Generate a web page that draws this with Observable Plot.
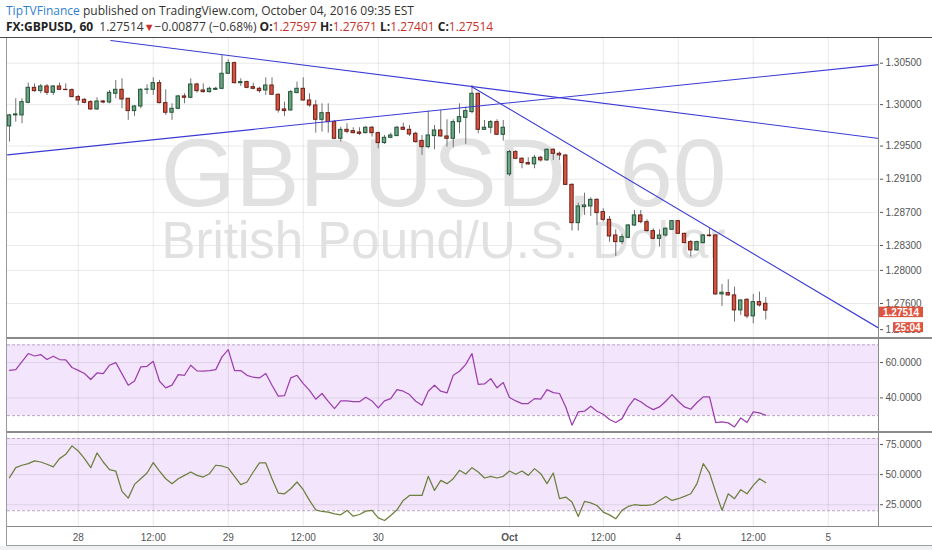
<!DOCTYPE html>
<html><head><meta charset="utf-8">
<script src="https://cdn.jsdelivr.net/npm/d3@7"></script>
<script src="https://cdn.jsdelivr.net/npm/@observablehq/plot@0.6"></script>
<style>
body{margin:0;background:#fff;}
#wrap{position:relative;width:932px;height:550px;overflow:hidden;background:#fff;}
.hdr{position:absolute;left:6px;font-family:"Open Sans",sans-serif;font-size:12px;color:#333;white-space:nowrap;line-height:16px;}
.hdr b{font-weight:700;color:#222;}
.hdr .r{color:#c8302a;}
.panel{position:absolute;left:0;}
.panel svg{display:block;}
.ln{position:absolute;background:#8a8a8a;}
</style></head><body>
<div id="wrap">
 <div class="hdr" style="top:3px"><span style="color:#2f7fd1">TipTVFinance</span> published on TradingView.com, October 04, 2016 09:35 EST</div>
 <div class="hdr" style="top:19px"><b>FX:GBPUSD, 60</b>&nbsp; 1.27514<span style="color:#d0302c;font-size:11px">▼</span>−0.00877 (−0.68%) <b>O:</b><span class="r">1.27597</span> <b>H:</b><span class="r">1.27671</span> <b>L:</b><span class="r">1.27401</span> <b>C:</b><span class="r">1.27514</span></div>
 <div id="p1" class="panel" style="top:38px"></div>
 <div id="p2" class="panel" style="top:338px"></div>
 <div id="p3" class="panel" style="top:432px"></div>
 <div class="ln" style="left:0;top:37px;width:932px;height:1px;background:#4a4a4a"></div>
 <div class="ln" style="left:7px;top:337px;width:925px;height:2px"></div>
 <div class="ln" style="left:7px;top:431px;width:925px;height:2px"></div>
 <div class="ln" style="left:7px;top:526px;width:925px;height:1px"></div>
 <div class="ln" style="left:6px;top:38px;width:1px;height:508px;background:#9a9a9a"></div>
 <div class="ln" style="left:878px;top:38px;width:1px;height:489px"></div>
 <div class="ln" style="left:0;top:546px;width:932px;height:4px;background:#eef0f2"></div>
 <div class="ln" style="left:6px;top:545px;width:926px;height:1px;background:#a0a0a0"></div>
</div>
<script>
// ---- data ----
const opens = [1.29737,1.29870,1.29870,1.30022,1.30203,1.30163,1.30219,1.30143,1.30219,1.30179,
1.30175,1.30091,1.30058,1.30030,1.29942,1.30038,1.30026,1.30131,1.30179,1.30071,
1.29922,1.29978,1.30179,1.30179,1.30259,1.30018,1.29902,1.29950,1.30099,1.30083,
1.30243,1.30171,1.30151,1.30179,1.30191,1.30372,1.30501,1.30259,1.30272,1.30211,
1.30191,1.30171,1.30231,1.30119,1.29942,1.29930,1.30139,1.30191,1.30050,1.29990,
1.29817,1.29897,1.29789,1.29588,1.29696,1.29680,1.29664,1.29656,1.29721,1.29656,
1.29536,1.29600,1.29620,1.29721,1.29696,1.29648,1.29560,1.29487,1.29620,1.29688,
1.29616,1.29588,1.29789,1.29841,1.29910,1.30131,1.29696,1.29721,1.29789,1.29636,
1.29158,1.29427,1.29347,1.29295,1.29279,1.29359,1.29327,1.29455,1.29407,1.29386,
1.29032,1.28570,1.28763,1.28771,1.28851,1.28703,1.28610,1.28421,1.28341,1.28393,
1.28542,1.28663,1.28582,1.28474,1.28381,1.28421,1.28490,1.28594,1.28441,1.28341,
1.28241,1.28329,1.28421,1.28421,1.27710,1.27726,1.27698,1.27517,1.27645,1.27445,
1.27617,1.27597];
const highs = [1.29882,1.30071,1.30071,1.30259,1.30251,1.30243,1.30243,1.30231,1.30259,1.30251,
1.30191,1.30111,1.30071,1.30050,1.30083,1.30050,1.30171,1.30292,1.30312,1.30071,
1.29990,1.30191,1.30239,1.30324,1.30292,1.30179,1.30010,1.30111,1.30131,1.30312,
1.30259,1.30251,1.30211,1.30211,1.30593,1.30541,1.30513,1.30312,1.30284,1.30259,
1.30211,1.30324,1.30324,1.30131,1.30030,1.30171,1.30272,1.30324,1.30131,1.30050,
1.30010,1.30010,1.29809,1.29729,1.29769,1.29721,1.29721,1.29737,1.29737,1.29668,
1.29628,1.29656,1.29737,1.29777,1.29749,1.29668,1.29628,1.29922,1.29749,1.29930,
1.29817,1.29817,1.30010,1.29970,1.30231,1.30139,1.29809,1.29809,1.29817,1.29809,
1.29447,1.29447,1.29359,1.29359,1.29387,1.29375,1.29467,1.29467,1.29427,1.29398,
1.29044,1.28811,1.28932,1.28876,1.28864,1.28743,1.28651,1.28490,1.28433,1.28554,
1.28723,1.28723,1.28610,1.28502,1.28490,1.28514,1.28602,1.28602,1.28449,1.28361,
1.28353,1.28433,1.28502,1.28433,1.27830,1.27887,1.27798,1.27645,1.27658,1.27710,
1.27738,1.27671];
const lows = [1.29548,1.29789,1.29769,1.30010,1.30151,1.30131,1.30111,1.30111,1.30171,1.30171,
1.30083,1.29990,1.30010,1.29930,1.29930,1.30010,1.30010,1.30071,1.29950,1.29810,
1.29858,1.29950,1.30123,1.30111,1.30010,1.29870,1.29810,1.29938,1.30010,1.30071,
1.30139,1.30139,1.30139,1.30171,1.30179,1.30364,1.30251,1.30219,1.30191,1.30179,
1.30139,1.30111,1.30111,1.29898,1.29858,1.29922,1.30131,1.30042,1.29970,1.29656,
1.29668,1.29656,1.29576,1.29548,1.29648,1.29648,1.29628,1.29648,1.29608,1.29467,
1.29520,1.29588,1.29616,1.29688,1.29616,1.29536,1.29387,1.29467,1.29455,1.29608,
1.29487,1.29479,1.29648,1.29520,1.29889,1.29648,1.29688,1.29648,1.29628,1.29560,
1.29134,1.29335,1.29226,1.29266,1.29226,1.29307,1.29319,1.29327,1.29327,1.29024,
1.28474,1.28474,1.28663,1.28651,1.28542,1.28582,1.28341,1.28168,1.28313,1.28381,
1.28530,1.28562,1.28462,1.28369,1.28281,1.28401,1.28482,1.28433,1.28321,1.28160,
1.28232,1.28321,1.28401,1.27698,1.27565,1.27686,1.27376,1.27457,1.27417,1.27356,
1.27557,1.27401];
const closes = [1.29870,1.29882,1.30030,1.30203,1.30163,1.30219,1.30143,1.30219,1.30179,1.30175,
1.30091,1.30050,1.30022,1.29942,1.30038,1.30026,1.30143,1.30179,1.30062,1.29922,
1.29978,1.30179,1.30183,1.30259,1.30018,1.29902,1.29950,1.30099,1.30083,1.30243,
1.30163,1.30151,1.30191,1.30191,1.30372,1.30501,1.30259,1.30272,1.30203,1.30191,
1.30163,1.30231,1.30119,1.29930,1.29922,1.30151,1.30191,1.30050,1.29990,1.29817,
1.29897,1.29789,1.29588,1.29696,1.29672,1.29656,1.29648,1.29721,1.29656,1.29536,
1.29600,1.29628,1.29721,1.29696,1.29640,1.29548,1.29487,1.29628,1.29688,1.29616,
1.29588,1.29789,1.29849,1.29922,1.30131,1.29696,1.29721,1.29789,1.29636,1.29721,
1.29427,1.29347,1.29295,1.29279,1.29359,1.29327,1.29455,1.29407,1.29387,1.29032,
1.28570,1.28771,1.28783,1.28851,1.28691,1.28610,1.28409,1.28341,1.28401,1.28542,
1.28663,1.28582,1.28474,1.28381,1.28421,1.28502,1.28594,1.28441,1.28329,1.28241,
1.28341,1.28421,1.28413,1.27710,1.27730,1.27698,1.27517,1.27637,1.27445,1.27617,
1.27577,1.27514];
const rsi = [55.6,56.0,60.5,65.1,63.7,64.5,61.7,63.6,61.7,61.5,
57.2,55.6,53.8,50.4,54.1,53.8,58.5,60.0,53.6,47.2,
49.6,57.5,57.9,60.7,49.4,45.7,47.2,53.2,52.8,58.5,
55.3,55.1,55.5,56.0,63.2,67.3,55.5,55.5,52.8,51.7,
51.3,53.8,47.2,41.0,41.3,51.3,52.8,48.1,44.3,39.3,
42.5,38.1,34.0,38.3,38.3,37.9,37.9,40.4,38.3,34.4,
38.3,39.6,44.7,43.8,41.9,38.1,35.9,43.8,47.2,43.8,
42.8,52.8,55.1,59.0,65.1,47.6,47.9,50.9,45.7,48.7,
40.2,38.3,36.8,36.8,39.6,39.3,44.7,43.0,42.5,34.9,
24.6,32.1,32.5,35.3,32.5,30.8,27.8,26.1,28.3,34.9,
39.6,37.8,35.3,33.4,34.9,38.1,41.9,38.1,34.9,33.6,
37.4,40.6,40.6,26.1,26.5,25.9,23.6,28.7,26.1,32.1,
31.5,30.2];
const stoch = [47.5,55.8,57.8,59.1,61.4,60.5,58.6,56.4,63.3,66.9,
73.9,69.7,63.3,55.8,68.0,60.5,54.1,53.0,36.1,30.5,
41.9,46.6,51.4,60.0,53.0,46.6,42.5,46.6,49.4,52.2,
49.4,48.0,50.8,57.8,57.2,55.5,48.6,41.7,43.9,52.2,
59.7,59.7,46.6,34.7,34.1,38.3,43.9,37.5,28.6,20.8,
19.4,18.9,17.5,16.6,20.3,15.5,16.9,19.7,20.3,14.1,
11.9,16.1,20.8,28.6,32.7,32.7,32.7,48.6,36.9,45.2,
42.5,46.6,53.6,50.5,55.8,52.2,47.2,48.6,47.2,48.6,
53.0,50.3,53.0,49.4,55.0,50.8,42.5,51.4,30.0,31.4,
27.2,15.3,27.8,26.6,24.4,18.9,16.6,13.3,20.3,23.6,
25.0,24.4,24.4,25.2,28.6,31.9,28.6,30.0,31.9,34.1,
42.5,59.1,51.4,35.5,20.3,34.1,30.0,37.5,34.1,41.1,
46.6,43.3];
// x ticks (bar index) and labels
const xTickIndex = [11,23,35,47,59,80,95,107,119,131];
const xTickLabels = ["28","12:00","29","12:00","30","Oct","12:00","4","12:00","5"];
const priceTicks = [1.276,1.280,1.283,1.287,1.291,1.295,1.300,1.305];
const rsiTicks = [40,60];
const rsiBand = [30,70];
const stochTicks = [25,50,75];
const stochBand = [20,80];
// trend lines: [index1, price1, index2, price2]
const trendLines = [[16.2,1.30774,139.2,1.29591],[-0.32,1.29394,139.2,1.30484],[73.9,1.30219,139.2,1.27298]];
const lastPrice = 1.27514;
const countdown = "25:04";

// ---- layout ----
const W = 932, ML = 7, MR = 53;
const xDomain = [-0.32, 139.2];
const idx = d3.range(opens.length);
const up = idx.filter(i => closes[i] >= opens[i]);
const dn = idx.filter(i => closes[i] < opens[i]);
const style = {fontFamily:"'Liberation Sans', Arial, sans-serif", fontSize:"10px", color:"#555", background:"transparent", overflow:"visible"};
const gridStroke = {stroke:"#000", strokeOpacity:0.085};
const labelMap = new Map(xTickIndex.map((d,i)=>[d, xTickLabels[i]]));

const main = Plot.plot({
  width: W, height: 300, marginLeft: ML, marginRight: MR, marginTop: 0, marginBottom: 0,
  style,
  x: {domain: xDomain, axis: null},
  y: {domain: [1.27178, 1.30798], axis: null},
  marks: [
    Plot.gridY(priceTicks, gridStroke),
    Plot.gridX(xTickIndex, gridStroke),
    Plot.text(["GBPUSD, 60"], {frameAnchor:"top", lineAnchor:"bottom", dy:167, fontSize:96, fill:"#e1e1e1", fontFamily:"'Liberation Sans', Arial, sans-serif"}),
    Plot.text(["British Pound/U.S. Dollar"], {frameAnchor:"top", lineAnchor:"bottom", dy:219, fontSize:51, fill:"#e1e1e1", fontFamily:"'Liberation Sans', Arial, sans-serif"}),
    Plot.ruleX(idx, {x: i => i, y1: i => lows[i], y2: i => highs[i], stroke:"#737375", strokeWidth:1}),
    Plot.rect(up, {x1: i => i - 0.27, x2: i => i + 0.27, y1: i => opens[i], y2: i => closes[i], fill:"#6ba583", stroke:"#225437", strokeWidth:1}),
    Plot.rect(dn, {x1: i => i - 0.27, x2: i => i + 0.27, y1: i => opens[i], y2: i => closes[i], fill:"#d75442", stroke:"#6b1f16", strokeWidth:1}),
    ...trendLines.map(t => Plot.line([[t[0],t[1]],[t[2],t[3]]], {x: d => d[0], y: d => d[1], stroke:"#3a3ad6", strokeWidth:1.1, clip:true})),
    Plot.axisY(priceTicks, {anchor:"right", tickFormat: d3.format(".5f"), tickSize:3, tickPadding:3, fontSize:10}),
    Plot.axisY([1.272], {anchor:"right", tickFormat: d3.format(".5f"), tickSize:3, tickPadding:3, fontSize:10, dy:-7})
  ]
});
document.getElementById("p1").append(main);
{
  const y = main.scale("y").apply(lastPrice);
  const g = d3.select(main).append("g").attr("text-anchor", "start").attr("font-size", 10).attr("font-weight", 600);
  const xr = W - MR;
  g.append("rect").attr("x", xr).attr("y", y - 3.5).attr("width", 44).attr("height", 10.5).attr("fill", "#e0533f");
  g.append("text").attr("x", xr + 4).attr("y", y + 5.5).attr("fill", "#fff").text(d3.format(".5f")(lastPrice));
  g.append("rect").attr("x", xr + 14).attr("y", y + 12).attr("width", 30).attr("height", 10).attr("fill", "#e0533f");
  g.append("text").attr("x", xr + 16).attr("y", y + 21).attr("fill", "#fff").text(countdown);
}

function oscPlot(values, domain, band, ticks, color, height, marginBottom, withX) {
  const marks = [
    Plot.rect([band], {x1: xDomain[0], x2: xDomain[1], y1: d => d[0], y2: d => d[1], fill:"#f3e5fb"}),
    Plot.gridY(ticks, gridStroke),
    Plot.gridX(xTickIndex, gridStroke),
    Plot.ruleY(band, {stroke:"#b9a6c4", strokeDasharray:"3,2"}),
    Plot.line(values, {x: (d,i) => i, y: d => d, stroke: color, strokeWidth: 1.25}),
    Plot.axisY(ticks, {anchor:"right", tickFormat: d3.format(".4f"), tickSize:3, tickPadding:3, fontSize:10})
  ];
  if (withX) marks.push(Plot.axisX(xTickIndex, {anchor:"bottom", tickSize:0, tickPadding:6, fontSize:10, tickFormat: d => labelMap.get(d)}));
  return Plot.plot({
    width: W, height, marginLeft: ML, marginRight: MR, marginTop: 0, marginBottom,
    style,
    x: {domain: xDomain, axis: null},
    y: {domain, axis: null},
    marks
  });
}
document.getElementById("p2").append(oscPlot(rsi, [20.45, 73.6], rsiBand, rsiTicks, "#9c3fae", 94, 0, false));
const st = oscPlot(stoch, [6.1, 85], stochBand, stochTicks, "#6d7f3e", 115, 20, true);
document.getElementById("p3").append(st);
d3.select(st).selectAll("text").filter(function(){ return this.textContent === "Oct"; }).attr("font-weight", "bold");
</script>
</body></html>
